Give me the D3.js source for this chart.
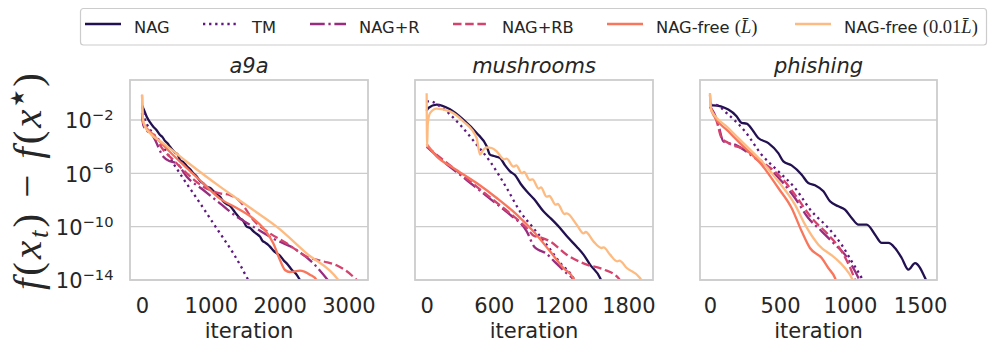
<!DOCTYPE html>
<html><head><meta charset="utf-8">
<script src="https://cdn.jsdelivr.net/npm/d3@7/dist/d3.min.js"></script>
<style>body{margin:0;background:#fff}svg{display:block}</style>
</head><body>
<svg id="chart" width="996" height="351"></svg>
<script>
// ---------------- data ----------------
const methods = ["NAG", "TM", "NAG+R", "NAG+RB", "NAG-free (L̄)", "NAG-free (0.01L̄)"];
const colors = ["#221150", "#5f187f", "#982d80", "#d3436e", "#f8765c", "#febb81"];
const datasets = ["a9a", "mushrooms", "phishing"];
const xTicksA9a = [0, 1000, 2000, 3000];
const xTicksMushrooms = [0, 600, 1200, 1800];
const xTicksPhishing = [0, 500, 1000, 1500];
const yTickExponents = [-2, -6, -10, -14];
// series: [iteration, log10(f(x_t) - f(x*))]
const a9aNAG = [[0,-0.9],[19,-1.13],[68,-1.75],[120,-2.2],[164,-2.5],[210,-2.75],[262,-3.13],[300,-3.3],[330,-3.55],[370,-3.75],[407,-4.0],[480,-4.45],[520,-4.6],[552,-5.0],[600,-5.15],[650,-5.45],[700,-5.7],[746,-6.0],[790,-6.2],[840,-6.55],[890,-6.75],[940,-7.0],[990,-7.1],[1040,-7.35],[1090,-7.6],[1133,-7.75],[1180,-8.1],[1230,-8.3],[1280,-8.45],[1327,-8.75],[1370,-9.05],[1420,-9.35],[1470,-9.55],[1521,-10.0],[1570,-10.1],[1620,-10.35],[1670,-10.55],[1715,-10.75],[1750,-11.05],[1790,-11.2],[1830,-11.35],[1860,-11.5],[1910,-11.8],[1960,-12.0],[2010,-12.2],[2054,-12.5],[2120,-12.85],[2180,-13.25],[2240,-13.55],[2296,-14.0],[2320,-14.2]];
const a9aTM = [[0,-1.0],[40,-1.9],[116,-2.7],[262,-3.6],[455,-5.25],[600,-6.4],[746,-7.5],[890,-8.6],[1036,-9.75],[1180,-10.85],[1327,-12.0],[1440,-13.0],[1545,-14.0],[1570,-14.2]];
const a9aNAGR = [[0,-1.5],[19,-2.4],[164,-3.25],[310,-4.75],[407,-5.1],[504,-5.25],[650,-6.25],[891,-7.25],[1133,-8.25],[1376,-9.25],[1618,-10.0],[1908,-10.9],[2199,-11.6],[2489,-12.75],[2700,-14.0],[2730,-14.2]];
const a9aNAGRB = [[0,-1.5],[19,-2.25],[164,-3.1],[310,-4.25],[455,-5.0],[650,-6.0],[891,-7.0],[1133,-7.5],[1279,-7.63],[1424,-8.1],[1618,-9.5],[1860,-10.5],[2102,-11.25],[2393,-12.25],[2634,-12.6],[2828,-12.9],[3070,-13.75],[3118,-14.0],[3140,-14.2]];
const a9aFree = [[0,-0.1],[10,-1.75],[19,-2.25],[164,-3.1],[407,-4.4],[650,-5.6],[891,-6.75],[1133,-7.9],[1376,-8.6],[1618,-9.4],[1763,-10.1],[1908,-11.25],[2005,-12.5],[2078,-13.25],[2150,-13.4],[2296,-13.3],[2441,-13.6],[2538,-14.0],[2560,-14.2]];
const a9aFree001 = [[0,-0.1],[10,-1.75],[44,-2.5],[116,-3.0],[310,-3.75],[650,-5.13],[1133,-7.0],[1618,-8.75],[1957,-10.0],[2393,-12.0],[2853,-14.0],[2880,-14.2]];

const mushNAG = [[0,-1.3],[15,-1.1],[89,-0.85],[208,-1.2],[327,-1.97],[446,-2.97],[536,-3.97],[565,-4.6],[600,-4.7],[655,-4.85],[700,-5.4],[744,-5.85],[790,-6.15],[840,-6.8],[893,-7.35],[960,-7.95],[1042,-8.85],[1110,-9.4],[1190,-10.1],[1260,-10.8],[1339,-11.5],[1400,-12.1],[1458,-12.85],[1548,-13.85],[1565,-14.2]];
const mushTM = [[0,-0.6],[30,-0.6],[119,-0.97],[297,-2.35],[446,-3.85],[565,-5.1],[714,-7.1],[833,-8.85],[952,-10.1],[1071,-11.35],[1190,-12.7],[1309,-13.85],[1330,-14.2]];
const mushNAGR = [[0,-4.0],[148,-5.1],[297,-6.1],[446,-7.1],[595,-8.1],[744,-9.1],[893,-10.35],[960,-11.5],[1000,-11.75],[1057,-11.95],[1150,-12.7],[1250,-13.5],[1309,-13.95],[1330,-14.2]];
const mushNAGRB = [[0,-4.0],[148,-5.0],[297,-6.0],[446,-7.0],[595,-8.0],[744,-9.0],[893,-10.1],[960,-10.7],[1012,-10.8],[1101,-11.1],[1250,-12.1],[1429,-12.85],[1577,-13.2],[1711,-13.85],[1740,-14.2]];
const mushFree = [[0,-3.8],[89,-4.73],[238,-5.6],[446,-6.73],[625,-7.85],[804,-9.1],[952,-10.35],[1101,-11.85],[1220,-13.1],[1309,-13.85],[1325,-14.2]];
const mushFree001 = [[0,0.0],[4,-4.0],[10,-2.3],[30,-1.48],[89,-1.15],[208,-1.35],[327,-2.1],[446,-3.35],[476,-4.6],[500,-4.3],[536,-4.05],[580,-4.1],[625,-4.35],[690,-4.95],[714,-4.9],[774,-5.5],[800,-5.4],[850,-6.0],[870,-5.9],[920,-6.5],[945,-6.45],[1000,-7.15],[1020,-7.05],[1070,-7.75],[1095,-7.7],[1150,-8.35],[1170,-8.3],[1230,-9.05],[1250,-9.0],[1339,-9.85],[1400,-10.5],[1420,-10.4],[1488,-11.1],[1560,-11.6],[1580,-11.55],[1637,-12.1],[1700,-12.6],[1720,-12.55],[1786,-13.1],[1904,-13.85],[1925,-14.2]];

const phisNAG = [[0,-0.9],[24,-0.9],[131,-1.22],[190,-1.72],[226,-2.22],[262,-2.27],[310,-2.85],[345,-3.35],[417,-3.73],[488,-4.48],[524,-5.1],[583,-5.4],[655,-6.1],[702,-6.73],[750,-6.9],[810,-7.35],[857,-8.1],[917,-8.47],[964,-8.73],[1012,-9.35],[1060,-9.85],[1119,-9.85],[1179,-10.6],[1226,-11.22],[1274,-11.22],[1321,-11.6],[1369,-12.35],[1417,-13.22],[1464,-12.73],[1536,-13.85],[1550,-14.2]];
const phisTM = [[0,-0.85],[36,-0.85],[131,-1.6],[250,-2.85],[369,-4.6],[488,-5.85],[607,-7.1],[726,-8.85],[845,-10.1],[940,-11.35],[1012,-12.6],[1083,-13.85],[1100,-14.2]];
const phisNAGR = [[0,-1.0],[30,-1.5],[60,-2.35],[95,-3.6],[179,-3.85],[321,-4.85],[417,-5.6],[512,-6.6],[607,-7.85],[702,-9.35],[798,-10.35],[893,-11.35],[964,-12.1],[1036,-13.35],[1060,-13.85],[1075,-14.2]];
const phisNAGRB = [[0,-1.0],[48,-2.1],[83,-3.35],[131,-3.72],[250,-4.23],[369,-5.1],[512,-6.35],[607,-7.6],[726,-9.35],[845,-10.6],[940,-11.85],[1012,-13.35],[1031,-13.85],[1045,-14.2]];
const phisFree = [[0,-0.1],[12,-1.35],[131,-2.85],[250,-4.1],[369,-5.35],[488,-7.1],[583,-8.6],[655,-10.35],[714,-11.6],[798,-12.35],[845,-13.1],[893,-13.85],[905,-14.2]];
const phisFree001 = [[0,0.03],[7,-1.22],[131,-2.6],[250,-3.85],[369,-5.1],[488,-6.6],[607,-8.35],[679,-9.85],[774,-11.35],[893,-12.35],[964,-13.1],[1012,-13.85],[1025,-14.2]];

const seriesA9a = [a9aNAG, a9aTM, a9aNAGR, a9aNAGRB, a9aFree, a9aFree001];
const seriesMushrooms = [mushNAG, mushTM, mushNAGR, mushNAGRB, mushFree, mushFree001];
const seriesPhishing = [phisNAG, phisTM, phisNAGR, phisNAGRB, phisFree, phisFree001];

// ---------------- drawing ----------------
const svg = d3.select("#chart");
const TXT = "#262626";
const SANS = "DejaVu Sans, sans-serif";
const SERIF = "Liberation Serif, DejaVu Serif, serif";
const GRID = "#cccccc";
const LW = 2.3;
const dashFor = i => [null, `${LW},${1.65*LW}`, `${6.4*LW},${1.6*LW},${LW},${1.6*LW}`, `${3.7*LW},${1.6*LW}`, null, null][i];

const plotTop = 80, plotBottom = 280;
const panels = [
  {name: datasets[0], series: seriesA9a, ticks: xTicksA9a, x0: 130, x1: 368, dom: [-175, 3285]},
  {name: datasets[1], series: seriesMushrooms, ticks: xTicksMushrooms, x0: 415, x1: 653, dom: [-104, 2020]},
  {name: datasets[2], series: seriesPhishing, ticks: xTicksPhishing, x0: 700, x1: 937, dom: [-71, 1621]}
];
const yScale = d3.scaleLog().domain([1e-14, 1e1]).range([plotBottom, plotTop]);

panels.forEach((p, pi) => {
  const x = d3.scaleLinear().domain(p.dom).range([p.x0, p.x1]);
  const g = svg.append("g");
  g.selectAll("line.grid").data(yTickExponents).join("line")
    .attr("x1", p.x0).attr("x2", p.x1)
    .attr("y1", d => yScale(Math.pow(10, d))).attr("y2", d => yScale(Math.pow(10, d)))
    .attr("stroke", GRID).attr("stroke-width", 1.4);
  const cid = "clip" + pi;
  svg.append("clipPath").attr("id", cid).append("rect")
    .attr("x", p.x0).attr("y", plotTop).attr("width", p.x1 - p.x0).attr("height", plotBottom - plotTop);
  const line = d3.line().x(d => x(d[0])).y(d => yScale(Math.pow(10, d[1]))).curve(d3.curveMonotoneX);
  const lg = g.append("g").attr("clip-path", `url(#${cid})`);
  p.series.forEach((s, i) => {
    lg.append("path").attr("d", line(s)).attr("fill", "none")
      .attr("stroke", colors[i]).attr("stroke-width", LW)
      .attr("stroke-dasharray", dashFor(i))
      .attr("stroke-linejoin", "round");
  });
  g.append("rect").attr("x", p.x0).attr("y", plotTop).attr("width", p.x1 - p.x0).attr("height", plotBottom - plotTop)
    .attr("fill", "none").attr("stroke", GRID).attr("stroke-width", 1.8);
  const ax = g.append("g").attr("transform", `translate(0,${plotBottom})`)
    .call(d3.axisBottom(x).tickValues(p.ticks).tickSize(0).tickPadding(0).tickFormat(d3.format("d")));
  ax.select(".domain").remove();
  ax.selectAll("text").attr("font-family", SANS).attr("font-size", 21).attr("fill", TXT)
    .attr("dy", null).attr("y", 32.5);
  g.append("text").attr("x", (p.x0 + p.x1) / 2).attr("y", 338).attr("text-anchor", "middle")
    .attr("font-family", SANS).attr("font-size", 21).attr("fill", TXT).text("iteration");
  g.append("text").attr("x", (p.x0 + p.x1) / 2).attr("y", 73).attr("text-anchor", "middle")
    .attr("font-family", SANS).attr("font-size", 21).attr("font-style", "italic").attr("fill", TXT).text(p.name);
  if (pi === 0) {
    yTickExponents.forEach(e => {
      const t = g.append("text").attr("x", 113.5).attr("y", yScale(Math.pow(10, e)) + 8.3)
        .attr("text-anchor", "end").attr("font-family", SANS).attr("font-size", 21).attr("fill", TXT);
      t.append("tspan").text("10");
      t.append("tspan").attr("font-size", 14.7).attr("dy", -8.3).text("\u2212" + Math.abs(e));
    });
  }
});

// y label: f(x_t) − f(x*)
{
  const t = svg.append("text").attr("transform", "translate(41,181.5) rotate(-90)")
    .attr("text-anchor", "middle").attr("font-family", SERIF).attr("font-size", 41).attr("fill", TXT)
    .attr("textLength", 217).attr("lengthAdjust", "spacing");
  t.append("tspan").attr("font-style", "italic").text("f");
  t.append("tspan").text("(");
  t.append("tspan").attr("font-style", "italic").text("x");
  t.append("tspan").attr("font-style", "italic").attr("font-size", 27).attr("dy", 7).text("t");
  t.append("tspan").attr("dy", -7).text(") \u2212 ");
  t.append("tspan").attr("font-style", "italic").text("f");
  t.append("tspan").text("(");
  t.append("tspan").attr("font-style", "italic").text("x");
  t.append("tspan").attr("font-size", 19).attr("dy", -17).attr("font-family", "DejaVu Sans").text("\u2605");
  t.append("tspan").attr("dy", 17).text(")");
}

// legend
{
  const lgd = svg.append("g");
  lgd.append("rect").attr("x", 80.5).attr("y", 8.5).attr("width", 906).attr("height", 36.5)
    .attr("rx", 3).attr("fill", "#fff").attr("stroke", GRID).attr("stroke-width", 1.2);
  const labelParts = [
    [["NAG", "s"]],
    [["TM", "s"]],
    [["NAG+R", "s"]],
    [["NAG+RB", "s"]],
    [["NAG-free ", "s"], ["(", "m"], ["L\u0304", "mi"], [")", "m"]],
    [["NAG-free ", "s"], ["(0.01", "m"], ["L\u0304", "mi"], [")", "m"]]
  ];
  const handleX = [85, 203, 310, 453, 607, 795];
  methods.forEach((m, i) => {
    const cx = handleX[i];
    lgd.append("line").attr("x1", cx).attr("x2", cx + 36).attr("y1", 24).attr("y2", 24)
      .attr("stroke", colors[i]).attr("stroke-width", LW).attr("stroke-dasharray", dashFor(i));
    const t = lgd.append("text").attr("x", cx + 49).attr("y", 33).attr("font-family", SANS)
      .attr("font-size", 16.3).attr("fill", TXT);
    labelParts[i].forEach(([s, k]) => {
      const ts = t.append("tspan").text(s);
      if (k !== "s") ts.attr("font-family", SERIF).attr("font-size", 18.5);
      if (k === "mi") ts.attr("font-style", "italic");
    });
  });
}
</script>
</body></html>
